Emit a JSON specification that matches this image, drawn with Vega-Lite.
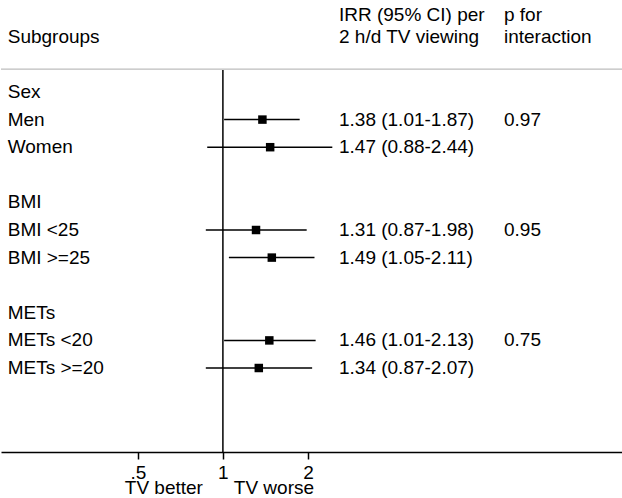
{
  "$schema": "https://vega.github.io/schema/vega-lite/v6.json",
  "width": 622,
  "height": 452,
  "autosize": {"type": "pad"},
  "padding": 0,
  "background": "white",
  "config": {
    "view": {"stroke": null},
    "font": "Liberation Sans",
    "text": {"font": "Liberation Sans", "fontSize": 19, "color": "black"}
  },
  "datasets": {
    "rows": [
      {"label": "Sex", "row": 0},
      {"label": "Men", "row": 1, "est": 1.38, "lo": 1.01, "hi": 1.87, "ci": "1.38 (1.01-1.87)", "p": "0.97"},
      {"label": "Women", "row": 2, "est": 1.47, "lo": 0.88, "hi": 2.44, "ci": "1.47 (0.88-2.44)", "p": ""},
      {"label": "BMI", "row": 4},
      {"label": "BMI <25", "row": 5, "est": 1.31, "lo": 0.87, "hi": 1.98, "ci": "1.31 (0.87-1.98)", "p": "0.95"},
      {"label": "BMI >=25", "row": 6, "est": 1.49, "lo": 1.05, "hi": 2.11, "ci": "1.49 (1.05-2.11)", "p": ""},
      {"label": "METs", "row": 8},
      {"label": "METs <20", "row": 9, "est": 1.46, "lo": 1.01, "hi": 2.13, "ci": "1.46 (1.01-2.13)", "p": "0.75"},
      {"label": "METs >=20", "row": 10, "est": 1.34, "lo": 0.87, "hi": 2.07, "ci": "1.34 (0.87-2.07)", "p": ""}
    ],
    "one": [{"k": 1}]
  },
  "data": {"name": "rows"},
  "encoding": {
    "x": {
      "type": "quantitative",
      "scale": {"type": "log", "domain": [0.1638, 26.1], "nice": false, "zero": false},
      "axis": {
        "values": [0.5, 1, 2],
        "labelExpr": "datum.value == 0.5 ? '.5' : datum.label",
        "title": null,
        "grid": false,
        "domainColor": "black",
        "domainWidth": 1.5,
        "tickColor": "black",
        "tickWidth": 1.5,
        "tickSize": 7,
        "labelFont": "Liberation Sans",
        "labelFontSize": 19,
        "labelColor": "black",
        "labelPadding": 4,
        "labelOverlap": false,
        "labelFlush": false
      }
    },
    "y": {
      "type": "quantitative",
      "scale": {"domain": [-3.333, 13.043], "reverse": true, "nice": false, "zero": false},
      "axis": null
    }
  },
  "layer": [
    {
      "data": {"name": "one"},
      "mark": {"type": "rule", "color": "#bdbdbd", "strokeWidth": 1.2},
      "encoding": {"x": null, "y": {"datum": -0.83, "type": "quantitative"}}
    },
    {
      "data": {"name": "one"},
      "mark": {"type": "rule", "color": "black", "strokeWidth": 1.5},
      "encoding": {
        "x": {"datum": 1, "type": "quantitative"},
        "y": {"datum": -0.8, "type": "quantitative"},
        "y2": {"datum": 13.043}
      }
    },
    {
      "transform": [{"filter": "isValid(datum.est)"}],
      "mark": {"type": "rule", "color": "black", "strokeWidth": 1.5},
      "encoding": {
        "x": {"field": "lo", "type": "quantitative"},
        "x2": {"field": "hi"},
        "y": {"field": "row", "type": "quantitative"}
      }
    },
    {
      "transform": [{"filter": "isValid(datum.est)"}],
      "mark": {"type": "point", "shape": "square", "filled": true, "color": "black", "size": 72, "opacity": 1},
      "encoding": {
        "x": {"field": "est", "type": "quantitative"},
        "y": {"field": "row", "type": "quantitative"}
      }
    },
    {
      "mark": {"type": "text", "align": "left", "baseline": "middle"},
      "encoding": {
        "x": {"datum": 0.173, "type": "quantitative"},
        "y": {"field": "row", "type": "quantitative"},
        "text": {"field": "label"}
      }
    },
    {
      "transform": [{"filter": "isValid(datum.est)"}],
      "mark": {"type": "text", "align": "left", "baseline": "middle"},
      "encoding": {
        "x": {"datum": 2.576, "type": "quantitative"},
        "y": {"field": "row", "type": "quantitative"},
        "text": {"field": "ci"}
      }
    },
    {
      "transform": [{"filter": "isValid(datum.est)"}],
      "mark": {"type": "text", "align": "left", "baseline": "middle"},
      "encoding": {
        "x": {"datum": 9.89, "type": "quantitative"},
        "y": {"field": "row", "type": "quantitative"},
        "text": {"field": "p"}
      }
    },
    {
      "data": {"name": "one"},
      "mark": {"type": "text", "align": "left", "baseline": "middle"},
      "encoding": {
        "x": {"datum": 0.173, "type": "quantitative"},
        "y": {"datum": -2.0, "type": "quantitative"},
        "text": {"value": "Subgroups"}
      }
    },
    {
      "data": {"name": "one"},
      "mark": {"type": "text", "align": "left", "baseline": "middle"},
      "encoding": {
        "x": {"datum": 2.576, "type": "quantitative"},
        "y": {"datum": -2.8, "type": "quantitative"},
        "text": {"value": "IRR (95% CI) per"}
      }
    },
    {
      "data": {"name": "one"},
      "mark": {"type": "text", "align": "left", "baseline": "middle"},
      "encoding": {
        "x": {"datum": 2.576, "type": "quantitative"},
        "y": {"datum": -2.0, "type": "quantitative"},
        "text": {"value": "2 h/d TV viewing"}
      }
    },
    {
      "data": {"name": "one"},
      "mark": {"type": "text", "align": "left", "baseline": "middle"},
      "encoding": {
        "x": {"datum": 9.89, "type": "quantitative"},
        "y": {"datum": -2.8, "type": "quantitative"},
        "text": {"value": "p for"}
      }
    },
    {
      "data": {"name": "one"},
      "mark": {"type": "text", "align": "left", "baseline": "middle"},
      "encoding": {
        "x": {"datum": 9.89, "type": "quantitative"},
        "y": {"datum": -2.0, "type": "quantitative"},
        "text": {"value": "interaction"}
      }
    },
    {
      "data": {"name": "one"},
      "mark": {"type": "text", "align": "center", "baseline": "alphabetic"},
      "encoding": {
        "x": {"datum": 0.618, "type": "quantitative"},
        "y": {"datum": 14.55, "type": "quantitative"},
        "text": {"value": "TV better"}
      }
    },
    {
      "data": {"name": "one"},
      "mark": {"type": "text", "align": "center", "baseline": "alphabetic"},
      "encoding": {
        "x": {"datum": 1.516, "type": "quantitative"},
        "y": {"datum": 14.55, "type": "quantitative"},
        "text": {"value": "TV worse"}
      }
    }
  ]
}
